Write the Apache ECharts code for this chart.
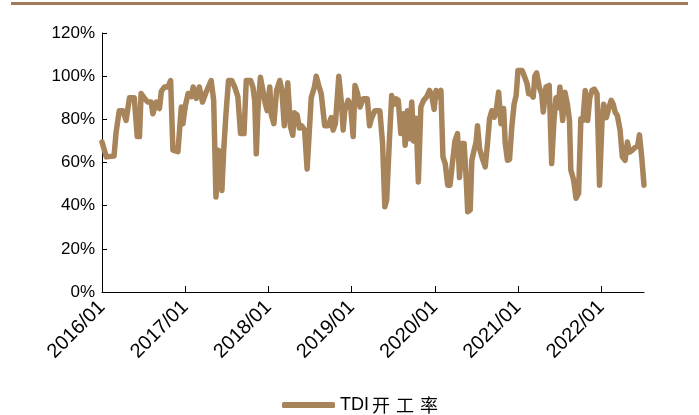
<!DOCTYPE html>
<html>
<head>
<meta charset="utf-8">
<script src="https://cdn.jsdelivr.net/npm/echarts@6/dist/echarts.min.js"></script>
<style>
html,body{margin:0;padding:0;background:#fff;}
#chart{width:699px;height:415px;}
</style>
</head>
<body>
<div id="chart"></div>
<script>
// ---- data ----
const seriesName = 'TDI开工率';
const dates = [
'2016-01-01','2016-01-20','2016-02-23','2016-03-03','2016-03-17','2016-04-02','2016-04-16','2016-05-01','2016-05-22','2016-06-04',
'2016-06-14','2016-06-21','2016-07-06','2016-07-20','2016-08-04','2016-08-12','2016-08-27','2016-09-10','2016-09-18','2016-10-02',
'2016-10-17','2016-10-29','2016-11-08','2016-11-30','2016-12-15','2016-12-22','2017-01-02','2017-01-14','2017-01-28','2017-02-05',
'2017-02-19','2017-03-04','2017-03-18','2017-04-03','2017-04-25','2017-05-06','2017-05-16','2017-05-27','2017-06-11','2017-06-19',
'2017-06-29','2017-07-10','2017-07-24','2017-08-06','2017-08-20','2017-09-01','2017-09-16','2017-09-26','2017-10-15','2017-10-25',
'2017-11-02','2017-11-09','2017-11-16','2017-11-27','2017-12-08','2017-12-19','2017-12-27','2018-01-07','2018-01-14','2018-01-25',
'2018-02-06','2018-02-20','2018-03-01','2018-03-12','2018-03-27','2018-04-08','2018-04-18','2018-04-25','2018-05-07','2018-05-17',
'2018-05-27','2018-06-09','2018-06-20','2018-07-08','2018-07-22','2018-07-30','2018-08-09','2018-08-21','2018-09-05','2018-09-20',
'2018-10-04','2018-10-12','2018-10-22','2018-11-06','2018-11-18','2018-11-25','2018-12-02','2018-12-17','2018-12-27','2019-01-08',
'2019-01-16','2019-01-27','2019-02-07','2019-02-21','2019-03-11','2019-03-21','2019-03-29','2019-04-13','2019-05-05','2019-05-17',
'2019-05-27','2019-06-04','2019-06-15','2019-06-26','2019-07-06','2019-07-15','2019-07-25','2019-08-05','2019-08-17','2019-08-24',
'2019-09-03','2019-09-12','2019-09-22','2019-09-30','2019-10-11','2019-10-21','2019-11-01','2019-11-13','2019-11-27','2019-12-09',
'2019-12-19','2019-12-29','2020-01-07','2020-01-18','2020-01-28','2020-02-06','2020-02-16','2020-02-27','2020-03-08','2020-03-20',
'2020-03-30','2020-04-10','2020-04-19','2020-04-29','2020-05-09','2020-05-18','2020-05-25','2020-06-05','2020-06-12','2020-06-22',
'2020-07-01','2020-07-07','2020-07-16','2020-07-26','2020-08-10','2020-08-20','2020-08-29','2020-09-08','2020-09-19','2020-09-27',
'2020-10-08','2020-10-18','2020-10-30','2020-11-06','2020-11-16','2020-11-25','2020-12-05','2020-12-15','2020-12-24','2021-01-01',
'2021-01-19','2021-01-29','2021-02-10','2021-02-17','2021-02-27','2021-03-09','2021-03-16','2021-03-24','2021-04-05','2021-04-15',
'2021-04-22','2021-05-04','2021-05-18','2021-05-29','2021-06-08','2021-06-17','2021-06-27','2021-07-04','2021-07-16','2021-07-26',
'2021-08-06','2021-08-15','2021-08-21','2021-09-02','2021-09-13','2021-09-24','2021-10-04','2021-10-13','2021-10-23','2021-11-03',
'2021-11-12','2021-11-22','2021-12-02','2021-12-14','2021-12-25','2022-01-05','2022-01-12','2022-01-24','2022-02-04','2022-02-14',
'2022-02-23','2022-03-03','2022-03-13','2022-03-25','2022-04-04','2022-04-16','2022-04-26','2022-05-05','2022-05-15','2022-05-30',
'2022-06-10','2022-06-18','2022-06-28','2022-07-08'
];
const values = [
69.5,62.6,63,74,84,84,79.5,90,90,72,
72,92,89.7,88,88,82.6,88,85,93,95,
95,98,65.7,65,85.7,78,86.5,92,90.5,95,
89.7,95,88,92.6,98,88.8,44,65.7,47,65.7,
82.6,98,98,95,90.5,73.4,73.4,98,98,95,
88.8,64,84,99.5,93.4,87,84,95,82,78,
93.4,98,93.4,77,97,76.5,72.6,83,82,76,
77,75,57,90,95,100,96,91.8,77,77,
80.8,75,78,100,87,75,84,88.8,87,72,
95.7,92,85.7,89.5,89.5,77,80.3,84,84,68.8,
39.5,42.6,68,91,87,89.5,88.8,73.4,82.6,68,
84,71,88,70,80.5,51,85.7,88.8,90.5,93.4,
91,84.6,93.4,90.5,93.4,62.6,59.5,49.5,49.5,61,
70,73.4,53,68.8,68.8,53,37.2,38,61,65.7,
69.5,77,66.5,62.6,58,68.8,80.3,84,81,84,
92.6,78,85,68.8,61,61.5,76.5,87,91,102.6,
102.6,100,96.5,91.8,91.8,90.3,100,101.5,94.6,91.8,
83.4,95,95.7,59.5,79.5,90,85.4,95,79.5,92.6,
87,79.5,56.5,52,43.4,45.7,80.3,79.5,93.4,79.5,
90,93.4,94,91.8,49.5,79.5,87,80.8,85.4,88.8,
87,83.4,81.8,75,62.6,61,69.5,64.8,65.5,67,
67.7,72.8,62.6,49.5
];
const yearTicks = [2016, 2017, 2018, 2019, 2020, 2021, 2022];
const yTicks = [0, 20, 40, 60, 80, 100, 120];

// ---- helpers ----
function toYear(s) {
  const p = s.split('-').map(Number);
  const start = Date.UTC(p[0], 0, 1), end = Date.UTC(p[0] + 1, 0, 1);
  return p[0] + (Date.UTC(p[0], p[1] - 1, p[2]) - start) / (end - start);
}
const seriesData = dates.map((d, i) => [toYear(d), values[i]]);

const lineColor = '#A8845A';
const font = 'Liberation Sans, Arial, Noto Sans CJK SC, sans-serif';

const chart = echarts.init(document.getElementById('chart'), null, {renderer: 'canvas'});
chart.setOption({
  animation: false,
  backgroundColor: '#fff',
  grid: {left: 102, right: 55, top: 33, bottom: 123, containLabel: false},
  graphic: [{
    type: 'line', silent: true,
    shape: {x1: 11, y1: 3.5, x2: 688, y2: 3.5},
    style: {stroke: '#A07A5A', lineWidth: 3}
  }],
  legend: {
    data: [seriesName],
    top: 391, left: 277,
    icon: 'roundRect', itemWidth: 53, itemHeight: 6, itemGap: 4,
    formatter: () => '{a|TDI}{b|开}{b|工}{b|率}',
    textStyle: {
      color: '#000',
      rich: {
        a: {fontSize: 18, fontFamily: font, color: '#000'},
        b: {fontSize: 18, fontFamily: 'Noto Sans CJK SC', color: '#000', width: 24, align: 'center'}
      }
    }
  },
  xAxis: {
    type: 'value',
    min: yearTicks[0],
    max: toYear(dates[dates.length - 1]),
    interval: 1,
    splitLine: {show: false},
    axisLine: {lineStyle: {color: '#000', width: 1}},
    axisTick: {show: true, inside: true, length: 6, lineStyle: {color: '#000'}, customValues: yearTicks},
    axisLabel: {
      customValues: yearTicks,
      formatter: v => v + '/01',
      rotate: 45, margin: 12,
      fontSize: 20, fontFamily: font, color: '#000'
    }
  },
  yAxis: {
    type: 'value',
    min: yTicks[0], max: yTicks[yTicks.length - 1], interval: 20,
    splitLine: {show: false},
    axisLine: {show: true, lineStyle: {color: '#000', width: 1}},
    axisTick: {show: true, inside: true, length: 5, lineStyle: {color: '#000'}},
    axisLabel: {formatter: '{value}%', fontSize: 17, fontFamily: font, color: '#000', margin: 7}
  },
  series: [{
    name: seriesName,
    type: 'line',
    data: seriesData,
    symbol: 'none',
    lineStyle: {color: lineColor, width: 5.5, cap: 'round', join: 'round'},
    itemStyle: {color: lineColor}
  }]
});
</script>
</body>
</html>
